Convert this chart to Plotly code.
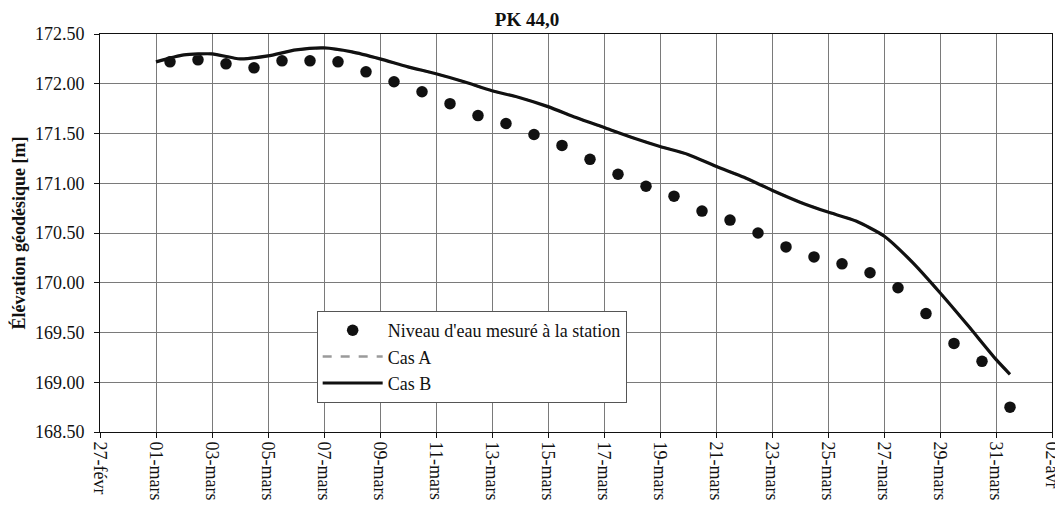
import plotly.graph_objects as go

# ── Données ───────────────────────────────────────────────
mesure_dates = [f"2003-03-{d:02d} 12:00" for d in range(1, 32)]
mesure_niveau = [
    172.22, 172.24, 172.20, 172.16, 172.23, 172.23, 172.22, 172.12, 172.02, 171.92,
    171.80, 171.68, 171.60, 171.49, 171.38, 171.24, 171.09, 170.97, 170.87, 170.72,
    170.63, 170.50, 170.36, 170.26, 170.19, 170.10, 169.95, 169.69, 169.39, 169.21,
    168.75,
]

modele_dates = [f"2003-03-{d:02d} 00:00" for d in range(1, 32)] + ["2003-03-31 12:00"]
cas_a = [
    172.22, 172.29, 172.30, 172.25, 172.28, 172.34, 172.36, 172.32, 172.25, 172.17,
    172.10, 172.02, 171.93, 171.86, 171.77, 171.66, 171.56, 171.46, 171.37, 171.29,
    171.17, 171.06, 170.93, 170.81, 170.71, 170.62, 170.47, 170.21, 169.90, 169.57,
    169.23, 169.08,
]
cas_b = [
    172.22, 172.29, 172.30, 172.25, 172.28, 172.34, 172.36, 172.32, 172.25, 172.17,
    172.10, 172.02, 171.93, 171.86, 171.77, 171.66, 171.56, 171.46, 171.37, 171.29,
    171.17, 171.06, 170.93, 170.81, 170.71, 170.62, 170.47, 170.21, 169.90, 169.57,
    169.23, 169.08,
]

tick_dates = ["2003-02-27", "2003-03-01", "2003-03-03", "2003-03-05", "2003-03-07",
              "2003-03-09", "2003-03-11", "2003-03-13", "2003-03-15", "2003-03-17",
              "2003-03-19", "2003-03-21", "2003-03-23", "2003-03-25", "2003-03-27",
              "2003-03-29", "2003-03-31", "2003-04-02"]
tick_labels = ["27-févr", "01-mars", "03-mars", "05-mars", "07-mars", "09-mars",
               "11-mars", "13-mars", "15-mars", "17-mars", "19-mars", "21-mars",
               "23-mars", "25-mars", "27-mars", "29-mars", "31-mars", "02-avr"]

SERIF = "Liberation Serif"

fig = go.Figure()

fig.add_trace(go.Scatter(
    x=mesure_dates, y=mesure_niveau,
    mode="markers",
    marker=dict(size=11.5, color="#111111"),
    name="Niveau d'eau mesuré à la station",
))
fig.add_trace(go.Scatter(
    x=modele_dates, y=cas_a,
    mode="lines",
    line=dict(color="#9a9a9a", width=2.5, dash="dash", shape="spline", smoothing=0.6),
    name="Cas A",
))
fig.add_trace(go.Scatter(
    x=modele_dates, y=cas_b,
    mode="lines",
    line=dict(color="#111111", width=3.2, shape="spline", smoothing=0.6),
    name="Cas B",
))

# la page ajoute 8 px de marge autour du graphique
fig.update_layout(
    width=1055, height=497,
    margin=dict(l=92, r=11, t=26, b=73),
    paper_bgcolor="white",
    plot_bgcolor="white",
    font=dict(family=SERIF, size=18, color="#111111"),
    title=dict(text="<b>PK 44,0</b>", x=0.492, xanchor="center", y=0.977,
               yanchor="middle", font=dict(family=SERIF, size=19)),
    showlegend=True,
    legend=dict(
        x=0.2276, y=0.304, xanchor="left", yanchor="top",
        bgcolor="white", bordercolor="#555555", borderwidth=1,
        font=dict(family=SERIF, size=18),
        tracegroupgap=0, itemwidth=60,
    ),
)

fig.update_xaxes(
    type="date",
    range=["2003-02-27", "2003-04-02"],
    tickvals=tick_dates, ticktext=tick_labels,
    tickangle=90,
    ticks="outside", ticklen=5, tickcolor="#111111",
    ticklabeloverflow="allow",
    showline=True, linecolor="#111111", linewidth=1, mirror=True,
    showgrid=True, gridcolor="#7a7a7a", gridwidth=1,
    tickfont=dict(family=SERIF, size=18),
    automargin=False,
)
fig.update_yaxes(
    range=[168.5, 172.5],
    tickvals=[168.5, 169.0, 169.5, 170.0, 170.5, 171.0, 171.5, 172.0, 172.5],
    tickformat=".2f",
    ticks="outside", ticklen=5, tickcolor="#111111",
    ticklabelstandoff=6,
    showline=True, linecolor="#111111", linewidth=1, mirror=True,
    showgrid=True, gridcolor="#7a7a7a", gridwidth=1,
    zeroline=False,
    title=dict(text="<b>Élévation géodésique [m]</b>", standoff=4,
               font=dict(family=SERIF, size=18)),
    tickfont=dict(family=SERIF, size=18),
    automargin=False,
)

fig.write_html("out.html")
